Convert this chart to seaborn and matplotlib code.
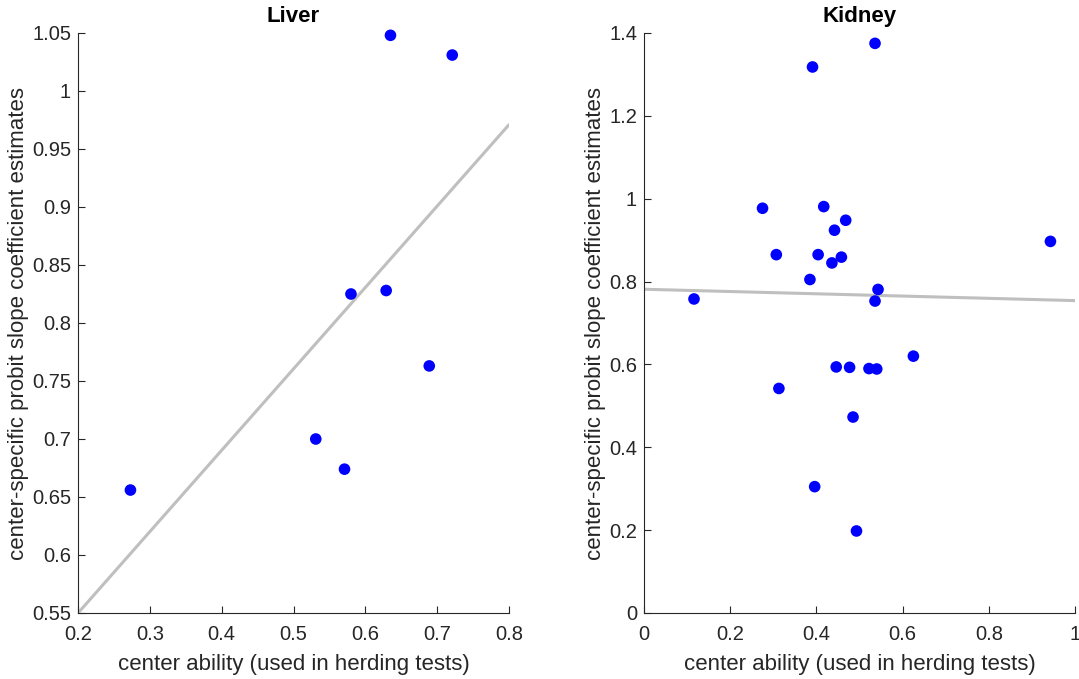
import numpy as np
import pandas as pd
import seaborn as sns
import matplotlib
matplotlib.use("Agg")
import matplotlib.pyplot as plt
from matplotlib.ticker import FuncFormatter

# ---- data ----
liver_x = [0.273, 0.531, 0.571, 0.580, 0.629, 0.635, 0.689, 0.721]
liver_y = [0.656, 0.700, 0.674, 0.825, 0.828, 1.048, 0.763, 1.031]

kidney_x = [0.536, 0.391, 0.275, 0.417, 0.468, 0.442, 0.943, 0.307, 0.404,
            0.458, 0.436, 0.385, 0.543, 0.116, 0.536, 0.625, 0.446, 0.477,
            0.522, 0.540, 0.313, 0.485, 0.396, 0.493]
kidney_y = [1.375, 1.318, 0.977, 0.981, 0.948, 0.924, 0.897, 0.865, 0.865,
            0.859, 0.845, 0.805, 0.781, 0.758, 0.753, 0.620, 0.594, 0.593,
            0.590, 0.589, 0.542, 0.473, 0.305, 0.198]

titles = ["Liver", "Kidney"]
xlabel = "center ability (used in herding tests)"
ylabel = "center-specific probit slope coefficient estimates"
liver_xticks = [0.2, 0.3, 0.4, 0.5, 0.6, 0.7, 0.8]
liver_yticks = [0.55, 0.6, 0.65, 0.7, 0.75, 0.8, 0.85, 0.9, 0.95, 1.0, 1.05]
kidney_xticks = [0, 0.2, 0.4, 0.6, 0.8, 1.0]
kidney_yticks = [0, 0.2, 0.4, 0.6, 0.8, 1.0, 1.2, 1.4]

sns.set_theme(style="ticks")
plt.rcParams['font.family'] = ['Liberation Sans', 'DejaVu Sans']

W, H = 1079, 679
fig = plt.figure(figsize=(W / 100, H / 100), dpi=100)
axL = fig.add_axes([78 / W, (H - 613) / H, 431 / W, 580 / H])
axR = fig.add_axes([644 / W, (H - 613) / H, 431 / W, 580 / H])

axis_col = "#262626"
fmt = FuncFormatter(lambda v, p: f"{round(v, 4):g}")

panels = [
    (axL, liver_x, liver_y, liver_xticks, liver_yticks, titles[0]),
    (axR, kidney_x, kidney_y, kidney_xticks, kidney_yticks, titles[1]),
]
for ax, xs, ys, xt, yt, title in panels:
    df = pd.DataFrame({"x": xs, "y": ys})
    ax.set_xlim(xt[0], xt[-1])
    ax.set_ylim(yt[0], yt[-1])
    sns.regplot(data=df, x="x", y="y", ax=ax, ci=None, truncate=False,
                scatter=False, line_kws=dict(color="#bfbfbf", lw=2.2, zorder=2))
    sns.scatterplot(data=df, x="x", y="y", ax=ax, color="#0000ff", s=70,
                    edgecolor="none", zorder=3, clip_on=False)
    ax.set_xlim(xt[0], xt[-1])
    ax.set_ylim(yt[0], yt[-1])
    ax.set_xticks(xt)
    ax.set_yticks(yt)
    ax.xaxis.set_major_formatter(fmt)
    ax.yaxis.set_major_formatter(fmt)
    ax.tick_params(direction="in", length=5, width=0.8, colors=axis_col,
                   labelsize=14.5)
    ax.tick_params(axis="x", pad=8.5)
    ax.tick_params(axis="y", pad=5)
    for s in ["top", "right"]:
        ax.spines[s].set_visible(False)
    for s in ["left", "bottom"]:
        ax.spines[s].set_color(axis_col)
        ax.spines[s].set_linewidth(0.8)
    ax.set_xlabel(xlabel, fontsize=16, color=axis_col, labelpad=7)
    ax.set_ylabel(ylabel, fontsize=16, color=axis_col, labelpad=2)
    ax.set_title(title, fontsize=16, fontweight="bold", color="black", pad=8)

fig.savefig("out.png", dpi=100)
